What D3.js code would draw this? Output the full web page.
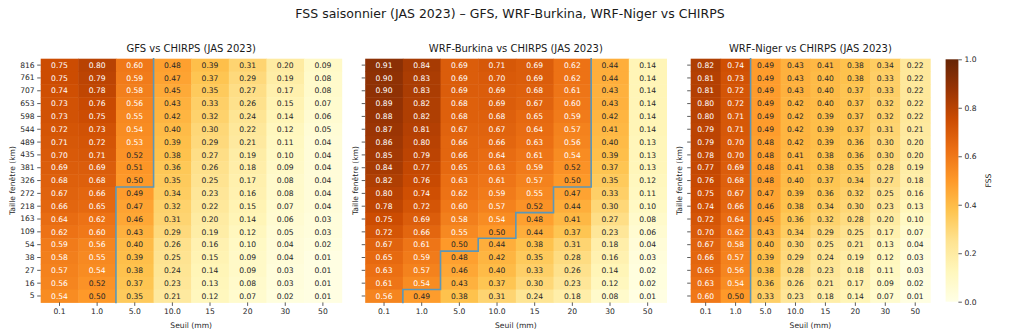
<!DOCTYPE html>
<html>
<head>
<meta charset="utf-8">
<script src="https://cdn.jsdelivr.net/npm/d3@7"></script>
<style>
  html, body { margin: 0; padding: 0; background: #fff; }
  svg { display: block; font-family: "DejaVu Sans", sans-serif; }
</style>
</head>
<body>
<svg id="chart" width="1024" height="336"></svg>
<script>
// Window sizes (km), top row first
const windowSizes = [816, 761, 707, 653, 598, 544, 489, 435, 381, 326, 272, 218, 163, 109, 54, 38, 27, 16, 5];
// Rain thresholds (mm)
const thresholds = ["0.1", "1.0", "5.0", "10.0", "15", "20", "30", "50"];

// FSS values, one row per window size, one column per threshold
const fssGFS = [
  [0.75, 0.80, 0.60, 0.48, 0.39, 0.31, 0.20, 0.09],
  [0.75, 0.79, 0.59, 0.47, 0.37, 0.29, 0.19, 0.08],
  [0.74, 0.78, 0.58, 0.45, 0.35, 0.27, 0.17, 0.08],
  [0.73, 0.76, 0.56, 0.43, 0.33, 0.26, 0.15, 0.07],
  [0.73, 0.75, 0.55, 0.42, 0.32, 0.24, 0.14, 0.06],
  [0.72, 0.73, 0.54, 0.40, 0.30, 0.22, 0.12, 0.05],
  [0.71, 0.72, 0.53, 0.39, 0.29, 0.21, 0.11, 0.04],
  [0.70, 0.71, 0.52, 0.38, 0.27, 0.19, 0.10, 0.04],
  [0.69, 0.69, 0.51, 0.36, 0.26, 0.18, 0.09, 0.04],
  [0.68, 0.68, 0.50, 0.35, 0.25, 0.17, 0.08, 0.04],
  [0.67, 0.66, 0.49, 0.34, 0.23, 0.16, 0.08, 0.04],
  [0.66, 0.65, 0.47, 0.32, 0.22, 0.15, 0.07, 0.04],
  [0.64, 0.62, 0.46, 0.31, 0.20, 0.14, 0.06, 0.03],
  [0.62, 0.60, 0.43, 0.29, 0.19, 0.12, 0.05, 0.03],
  [0.59, 0.56, 0.40, 0.26, 0.16, 0.10, 0.04, 0.02],
  [0.58, 0.55, 0.39, 0.25, 0.15, 0.09, 0.04, 0.01],
  [0.57, 0.54, 0.38, 0.24, 0.14, 0.09, 0.03, 0.01],
  [0.56, 0.52, 0.37, 0.23, 0.13, 0.08, 0.03, 0.01],
  [0.54, 0.50, 0.35, 0.21, 0.12, 0.07, 0.02, 0.01]
];
const fssWRFBurkina = [
  [0.91, 0.84, 0.69, 0.71, 0.69, 0.62, 0.44, 0.14],
  [0.90, 0.83, 0.69, 0.70, 0.69, 0.62, 0.44, 0.14],
  [0.90, 0.83, 0.69, 0.69, 0.68, 0.61, 0.43, 0.14],
  [0.89, 0.82, 0.68, 0.69, 0.67, 0.60, 0.43, 0.14],
  [0.88, 0.82, 0.68, 0.68, 0.65, 0.59, 0.42, 0.14],
  [0.87, 0.81, 0.67, 0.67, 0.64, 0.57, 0.41, 0.14],
  [0.86, 0.80, 0.66, 0.66, 0.63, 0.56, 0.40, 0.13],
  [0.85, 0.79, 0.66, 0.64, 0.61, 0.54, 0.39, 0.13],
  [0.84, 0.77, 0.65, 0.63, 0.59, 0.52, 0.37, 0.13],
  [0.82, 0.76, 0.63, 0.61, 0.57, 0.50, 0.35, 0.12],
  [0.80, 0.74, 0.62, 0.59, 0.55, 0.47, 0.33, 0.11],
  [0.78, 0.72, 0.60, 0.57, 0.52, 0.44, 0.30, 0.10],
  [0.75, 0.69, 0.58, 0.54, 0.48, 0.41, 0.27, 0.08],
  [0.72, 0.66, 0.55, 0.50, 0.44, 0.37, 0.23, 0.06],
  [0.67, 0.61, 0.50, 0.44, 0.38, 0.31, 0.18, 0.04],
  [0.65, 0.59, 0.48, 0.42, 0.35, 0.28, 0.16, 0.03],
  [0.63, 0.57, 0.46, 0.40, 0.33, 0.26, 0.14, 0.02],
  [0.61, 0.54, 0.43, 0.37, 0.30, 0.23, 0.12, 0.02],
  [0.56, 0.49, 0.38, 0.31, 0.24, 0.18, 0.08, 0.01]
];
const fssWRFNiger = [
  [0.82, 0.74, 0.49, 0.43, 0.41, 0.38, 0.34, 0.22],
  [0.81, 0.73, 0.49, 0.43, 0.40, 0.38, 0.33, 0.22],
  [0.81, 0.72, 0.49, 0.43, 0.40, 0.37, 0.33, 0.22],
  [0.80, 0.72, 0.49, 0.42, 0.40, 0.37, 0.32, 0.22],
  [0.80, 0.71, 0.49, 0.42, 0.39, 0.37, 0.32, 0.22],
  [0.79, 0.71, 0.49, 0.42, 0.39, 0.37, 0.31, 0.21],
  [0.79, 0.70, 0.48, 0.42, 0.39, 0.36, 0.30, 0.20],
  [0.78, 0.70, 0.48, 0.41, 0.38, 0.36, 0.30, 0.20],
  [0.77, 0.69, 0.48, 0.41, 0.38, 0.35, 0.28, 0.19],
  [0.76, 0.68, 0.48, 0.40, 0.37, 0.34, 0.27, 0.18],
  [0.75, 0.67, 0.47, 0.39, 0.36, 0.32, 0.25, 0.16],
  [0.74, 0.66, 0.46, 0.38, 0.34, 0.30, 0.23, 0.13],
  [0.72, 0.64, 0.45, 0.36, 0.32, 0.28, 0.20, 0.10],
  [0.70, 0.62, 0.43, 0.34, 0.29, 0.25, 0.17, 0.07],
  [0.67, 0.58, 0.40, 0.30, 0.25, 0.21, 0.13, 0.04],
  [0.66, 0.57, 0.39, 0.29, 0.24, 0.19, 0.12, 0.03],
  [0.65, 0.56, 0.38, 0.28, 0.23, 0.18, 0.11, 0.03],
  [0.63, 0.54, 0.36, 0.26, 0.21, 0.17, 0.09, 0.02],
  [0.60, 0.50, 0.33, 0.23, 0.18, 0.14, 0.07, 0.01]
];

const panelTitles = ["GFS vs CHIRPS (JAS 2023)", "WRF-Burkina vs CHIRPS (JAS 2023)", "WRF-Niger vs CHIRPS (JAS 2023)"];
const colorbarTicks = [0.0, 0.2, 0.4, 0.6, 0.8, 1.0];
const usefulSkill = 0.5;

// YlOrBr palette, linearly interpolated between the nine brewer stops
const ylOrBr = ["#ffffe5", "#fff7bc", "#fee391", "#fec44f", "#fe9929", "#ec7014", "#cc4c02", "#993404", "#662506"];
const color = d3.scaleLinear()
  .domain(ylOrBr.map((_, i) => i / (ylOrBr.length - 1)))
  .range(ylOrBr)
  .interpolate(d3.interpolateRgb)
  .clamp(true);

// Annotation colour from relative luminance of the cell colour
function textColor(v) {
  const c = d3.rgb(color(v));
  const lin = x => { x /= 255; return x <= 0.03928 ? x / 12.92 : Math.pow((x + 0.055) / 1.055, 2.4); };
  const lum = 0.2126 * lin(c.r) + 0.7152 * lin(c.g) + 0.0722 * lin(c.b);
  return lum > 0.408 ? "#262626" : "#ffffff";
}

const svg = d3.select("#chart");
const plotTop = 58.7, plotBottom = 302.4;
const panels = [
  { data: fssGFS, x0: 40.7, x1: 341.7, yLabelX: 12, showY: true },
  { data: fssWRFBurkina, x0: 365.2, x1: 666.5, yLabelX: 355, showY: false },
  { data: fssWRFNiger, x0: 690.7, x1: 930.2, yLabelX: 679, showY: false }
];

svg.append("text")
  .attr("x", 510).attr("y", 18)
  .attr("text-anchor", "middle")
  .attr("font-size", 12.5).attr("fill", "#1a1a1a")
  .text("FSS saisonnier (JAS 2023) \u2013 GFS, WRF-Burkina, WRF-Niger vs CHIRPS");

panels.forEach((p, pi) => {
  const x = d3.scaleBand().domain(thresholds).range([p.x0, p.x1]);
  const y = d3.scaleBand().domain(windowSizes.map(String)).range([plotTop, plotBottom]);
  const g = svg.append("g");

  const cells = [];
  p.data.forEach((row, ri) => row.forEach((v, ci) => cells.push({ r: windowSizes[ri], c: thresholds[ci], v, ri, ci })));

  g.selectAll("rect.cell").data(cells).join("rect")
    .attr("class", "cell")
    .attr("x", d => x(d.c)).attr("y", d => y(String(d.r)))
    .attr("width", x.bandwidth() + 0.5).attr("height", y.bandwidth() + 0.5)
    .attr("fill", d => color(d.v));

  g.selectAll("text.ann").data(cells).join("text")
    .attr("class", "ann")
    .attr("x", d => x(d.c) + x.bandwidth() / 2)
    .attr("y", d => y(String(d.r)) + y.bandwidth() / 2)
    .attr("dy", "0.35em")
    .attr("text-anchor", "middle")
    .attr("font-size", 7.6)
    .attr("fill", d => textColor(d.v))
    .text(d => d.v.toFixed(2));

  // Boundary of the region where FSS >= 0.5
  const inside = (ri, ci) => p.data[ri][ci] >= usefulSkill;
  const segs = [];
  const nR = windowSizes.length, nC = thresholds.length;
  for (let ri = 0; ri < nR; ri++) {
    for (let ci = 0; ci < nC; ci++) {
      const xl = x(thresholds[ci]), xr = xl + x.bandwidth();
      const yt = y(String(windowSizes[ri])), yb = yt + y.bandwidth();
      if (ci < nC - 1 && inside(ri, ci) !== inside(ri, ci + 1)) segs.push([[xr, yt], [xr, yb]]);
      if (ri < nR - 1 && inside(ri, ci) !== inside(ri + 1, ci)) segs.push([[xl, yb], [xr, yb]]);
    }
  }
  g.append("path")
    .attr("d", segs.map(s => `M${s[0][0]},${s[0][1]}L${s[1][0]},${s[1][1]}`).join(""))
    .attr("fill", "none")
    .attr("stroke", "#5b97b8")
    .attr("stroke-width", 1.6)
    .attr("stroke-linecap", "square");

  // Axes
  const xAxis = d3.axisBottom(x).tickSize(3.5).tickPadding(3);
  const xg = g.append("g").attr("transform", `translate(0,${plotBottom})`).call(xAxis);
  const yAxis = d3.axisLeft(y).tickSize(3.5).tickPadding(2.5);
  if (!p.showY) yAxis.tickFormat("");
  const yg = g.append("g").attr("transform", `translate(${p.x0},0)`).call(yAxis);
  [xg, yg].forEach(a => {
    a.select(".domain").remove();
    a.selectAll(".tick line").attr("stroke", "#333").attr("stroke-width", 0.8);
    a.selectAll(".tick text").attr("font-size", 7.6).attr("fill", "#262626").attr("font-family", "DejaVu Sans, sans-serif");
  });

  g.append("text")
    .attr("x", (p.x0 + p.x1) / 2).attr("y", 52)
    .attr("text-anchor", "middle").attr("font-size", 10).attr("fill", "#1a1a1a")
    .text(panelTitles[pi]);

  g.append("text")
    .attr("x", (p.x0 + p.x1) / 2).attr("y", 328)
    .attr("text-anchor", "middle").attr("font-size", 7.6).attr("fill", "#262626")
    .text("Seuil (mm)");

  g.append("text")
    .attr("transform", `translate(${p.yLabelX},${(plotTop + plotBottom) / 2}) rotate(-90)`)
    .attr("text-anchor", "middle").attr("dy", "0.35em")
    .attr("font-size", 7.6).attr("fill", "#262626")
    .text("Taille fen\u00eatre (km)");
});

// Colorbar
const cbX = 945.6, cbW = 12.8, cbTop = 59.3, cbBottom = 301.7;
const defs = svg.append("defs");
const grad = defs.append("linearGradient").attr("id", "cbGrad")
  .attr("x1", 0).attr("y1", 1).attr("x2", 0).attr("y2", 0);
ylOrBr.forEach((c, i) => grad.append("stop").attr("offset", i / (ylOrBr.length - 1)).attr("stop-color", c));
svg.append("rect").attr("x", cbX).attr("y", cbTop).attr("width", cbW).attr("height", cbBottom - cbTop)
  .attr("fill", "url(#cbGrad)");
const cbScale = d3.scaleLinear().domain([0, 1]).range([cbBottom, cbTop]);
const cbAxis = svg.append("g").attr("transform", `translate(${cbX + cbW},0)`)
  .call(d3.axisRight(cbScale).tickValues(colorbarTicks).tickFormat(d3.format(".1f")).tickSize(3.5).tickPadding(2.5));
cbAxis.select(".domain").remove();
cbAxis.selectAll(".tick line").attr("stroke", "#333").attr("stroke-width", 0.8);
cbAxis.selectAll(".tick text").attr("font-size", 7.6).attr("fill", "#262626").attr("font-family", "DejaVu Sans, sans-serif");
svg.append("text")
  .attr("transform", `translate(988,${(cbTop + cbBottom) / 2}) rotate(-90)`)
  .attr("text-anchor", "middle").attr("dy", "0.35em")
  .attr("font-size", 7.6).attr("fill", "#262626")
  .text("FSS");
</script>
</body>
</html>
